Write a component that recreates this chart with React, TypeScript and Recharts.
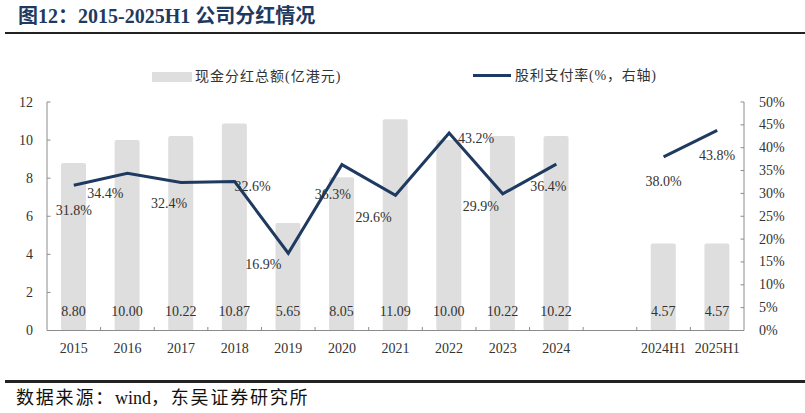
import React from "react"
import {
  Bar,
  ComposedChart,
  LabelList,
  Line,
  XAxis,
  YAxis,
} from "recharts"

// data
const categories = ["2015", "2016", "2017", "2018", "2019", "2020", "2021", "2022", "2023", "2024", "", "2024H1", "2025H1"]
const dividends = [8.8, 10.0, 10.22, 10.87, 5.65, 8.05, 11.09, 10.0, 10.22, 10.22, null, 4.57, 4.57]
const payoutRatio = [31.8, 34.4, 32.4, 32.6, 16.9, 36.3, 29.6, 43.2, 29.9, 36.4, null, 38.0, 43.8]
const leftTicks = [0, 2, 4, 6, 8, 10, 12]
const rightTicks = [0, 5, 10, 15, 20, 25, 30, 35, 40, 45, 50]

const data = categories.map((cat, i) => ({
  cat,
  dividend: dividends[i],
  ratio: payoutRatio[i],
}))

const FONT = '"Liberation Serif", "Noto Sans CJK SC", serif'
const CJK = '"Liberation Serif", "Noto Sans CJK SC", sans-serif'
const NAVY = "#1f3a60"
const BAR = "#dedede"
const AXIS = "#8c8c8c"
const TEXT = "#333"

// where each ratio label sits relative to its point (hand-placed in the original)
const ratioLabelOffsets: [number, number][] = [
  [0, 25], [-22, 20], [-12, 21], [18, 5], [-25, 11], [-9, 30],
  [-22, 22], [27, 5], [-22, 13], [-8, 22], [0, 0], [0, 25], [0, 25],
]

const XTick = (props: any) => {
  const { x, y, payload, index } = props
  const half = payload?.offset ?? 26.8
  return (
    <g>
      {index > 0 && (
        <line x1={x - half} x2={x - half} y1={y} y2={y - 3.5} stroke={AXIS} strokeWidth={1} />
      )}
      <text x={x} y={y + 18} textAnchor="middle" dominantBaseline="central" fontSize={14} fill={TEXT} fontFamily={FONT}>
        {payload.value}
      </text>
    </g>
  )
}

const LeftTick = (props: any) => {
  const { x, y, payload } = props
  return (
    <g>
      <line x1={x} x2={x + 3.5} y1={y} y2={y} stroke={AXIS} strokeWidth={1} />
      <text x={x - 14} y={y} textAnchor="end" dominantBaseline="central" fontSize={14} fill={TEXT} fontFamily={FONT}>
        {payload.value}
      </text>
    </g>
  )
}

const RightTick = (props: any) => {
  const { x, y, payload } = props
  return (
    <g>
      <line x1={x} x2={x - 3.5} y1={y} y2={y} stroke={AXIS} strokeWidth={1} />
      <text x={x + 15} y={y} textAnchor="start" dominantBaseline="central" fontSize={14} fill={TEXT} fontFamily={FONT}>
        {payload.value}%
      </text>
    </g>
  )
}

const BarValue = (props: any) => {
  const { x, y, width, height, value } = props
  if (value == null) return null
  return (
    <text x={x + width / 2} y={y + height - 19} textAnchor="middle" dominantBaseline="central" fontSize={14} fill={TEXT} fontFamily={FONT}>
      {Number(value).toFixed(2)}
    </text>
  )
}

const RatioValue = (props: any) => {
  const { x, y, value, index } = props
  if (value == null) return null
  const [dx, dy] = ratioLabelOffsets[index] || [0, 22]
  return (
    <text x={x + dx} y={y + dy} textAnchor="middle" dominantBaseline="central" fontSize={14} fill={TEXT} fontFamily={FONT}>
      {Number(value).toFixed(1)}%
    </text>
  )
}

export default function App() {
  return (
    <div style={{ position: "absolute", left: 0, top: 0, width: 805, height: 413, background: "#fff", overflow: "hidden" }}>
      <div style={{ position: "absolute", left: 18, top: 3, fontSize: 20, fontWeight: "bold", color: NAVY, fontFamily: CJK, whiteSpace: "nowrap", lineHeight: "26px" }}>
        图12：2015-2025H1 公司分红情况
      </div>
      <div style={{ position: "absolute", left: 5, right: 0, top: 32, height: 2, background: "#222" }} />

      {/* legend */}
      <div style={{ position: "absolute", left: 152, top: 72, width: 40, height: 10, background: BAR }} />
      <div style={{ position: "absolute", left: 195, top: 67, fontSize: 14, letterSpacing: 1, color: TEXT, fontFamily: CJK, whiteSpace: "nowrap", lineHeight: "20px" }}>
        现金分红总额(亿港元)
      </div>
      <div style={{ position: "absolute", left: 473, top: 74, width: 38, height: 3, background: NAVY }} />
      <div style={{ position: "absolute", left: 515, top: 66, fontSize: 14, letterSpacing: 0.8, color: TEXT, fontFamily: CJK, whiteSpace: "nowrap", lineHeight: "20px" }}>
        股利支付率(%，右轴)
      </div>

      <div style={{ position: "absolute", left: 0, top: 0 }}>
        <ComposedChart width={805} height={370} data={data} margin={{ top: 102, right: 0, bottom: 9.5, left: 0 }}>
          <XAxis
            dataKey="cat"
            xAxisId={0}
            interval={0}
            tickLine={false}
            tickSize={0}
            tickMargin={0}
            height={30}
            axisLine={{ stroke: AXIS }}
            tick={<XTick />}
          />
          <YAxis
            yAxisId="left"
            orientation="left"
            width={47}
            domain={[0, 12]}
            ticks={leftTicks}
            interval={0}
            tickLine={false}
            tickSize={0}
            tickMargin={0}
            axisLine={{ stroke: AXIS }}
            tick={<LeftTick />}
          />
          <YAxis
            yAxisId="right"
            orientation="right"
            width={61}
            domain={[0, 50]}
            ticks={rightTicks}
            interval={0}
            tickLine={false}
            tickSize={0}
            tickMargin={0}
            axisLine={{ stroke: AXIS }}
            tick={<RightTick />}
          />
          <Bar yAxisId="left" dataKey="dividend" fill={BAR} barSize={25} radius={2} isAnimationActive={false}>
            <LabelList dataKey="dividend" content={<BarValue />} />
          </Bar>
          <Line
            yAxisId="right"
            dataKey="ratio"
            stroke={NAVY}
            strokeWidth={3}
            dot={false}
            connectNulls={false}
            isAnimationActive={false}
          >
            <LabelList dataKey="ratio" content={<RatioValue />} />
          </Line>
        </ComposedChart>
      </div>

      <div style={{ position: "absolute", left: 5, right: 0, top: 380, height: 2.5, background: "#222" }} />
      <div style={{ position: "absolute", left: 16, top: 386, fontSize: 18, letterSpacing: 1.8, color: "#111", fontFamily: CJK, whiteSpace: "nowrap", lineHeight: "24px" }}>
        数据来源：<span style={{ letterSpacing: 0 }}>wind</span>，东吴证券研究所
      </div>
    </div>
  )
}
